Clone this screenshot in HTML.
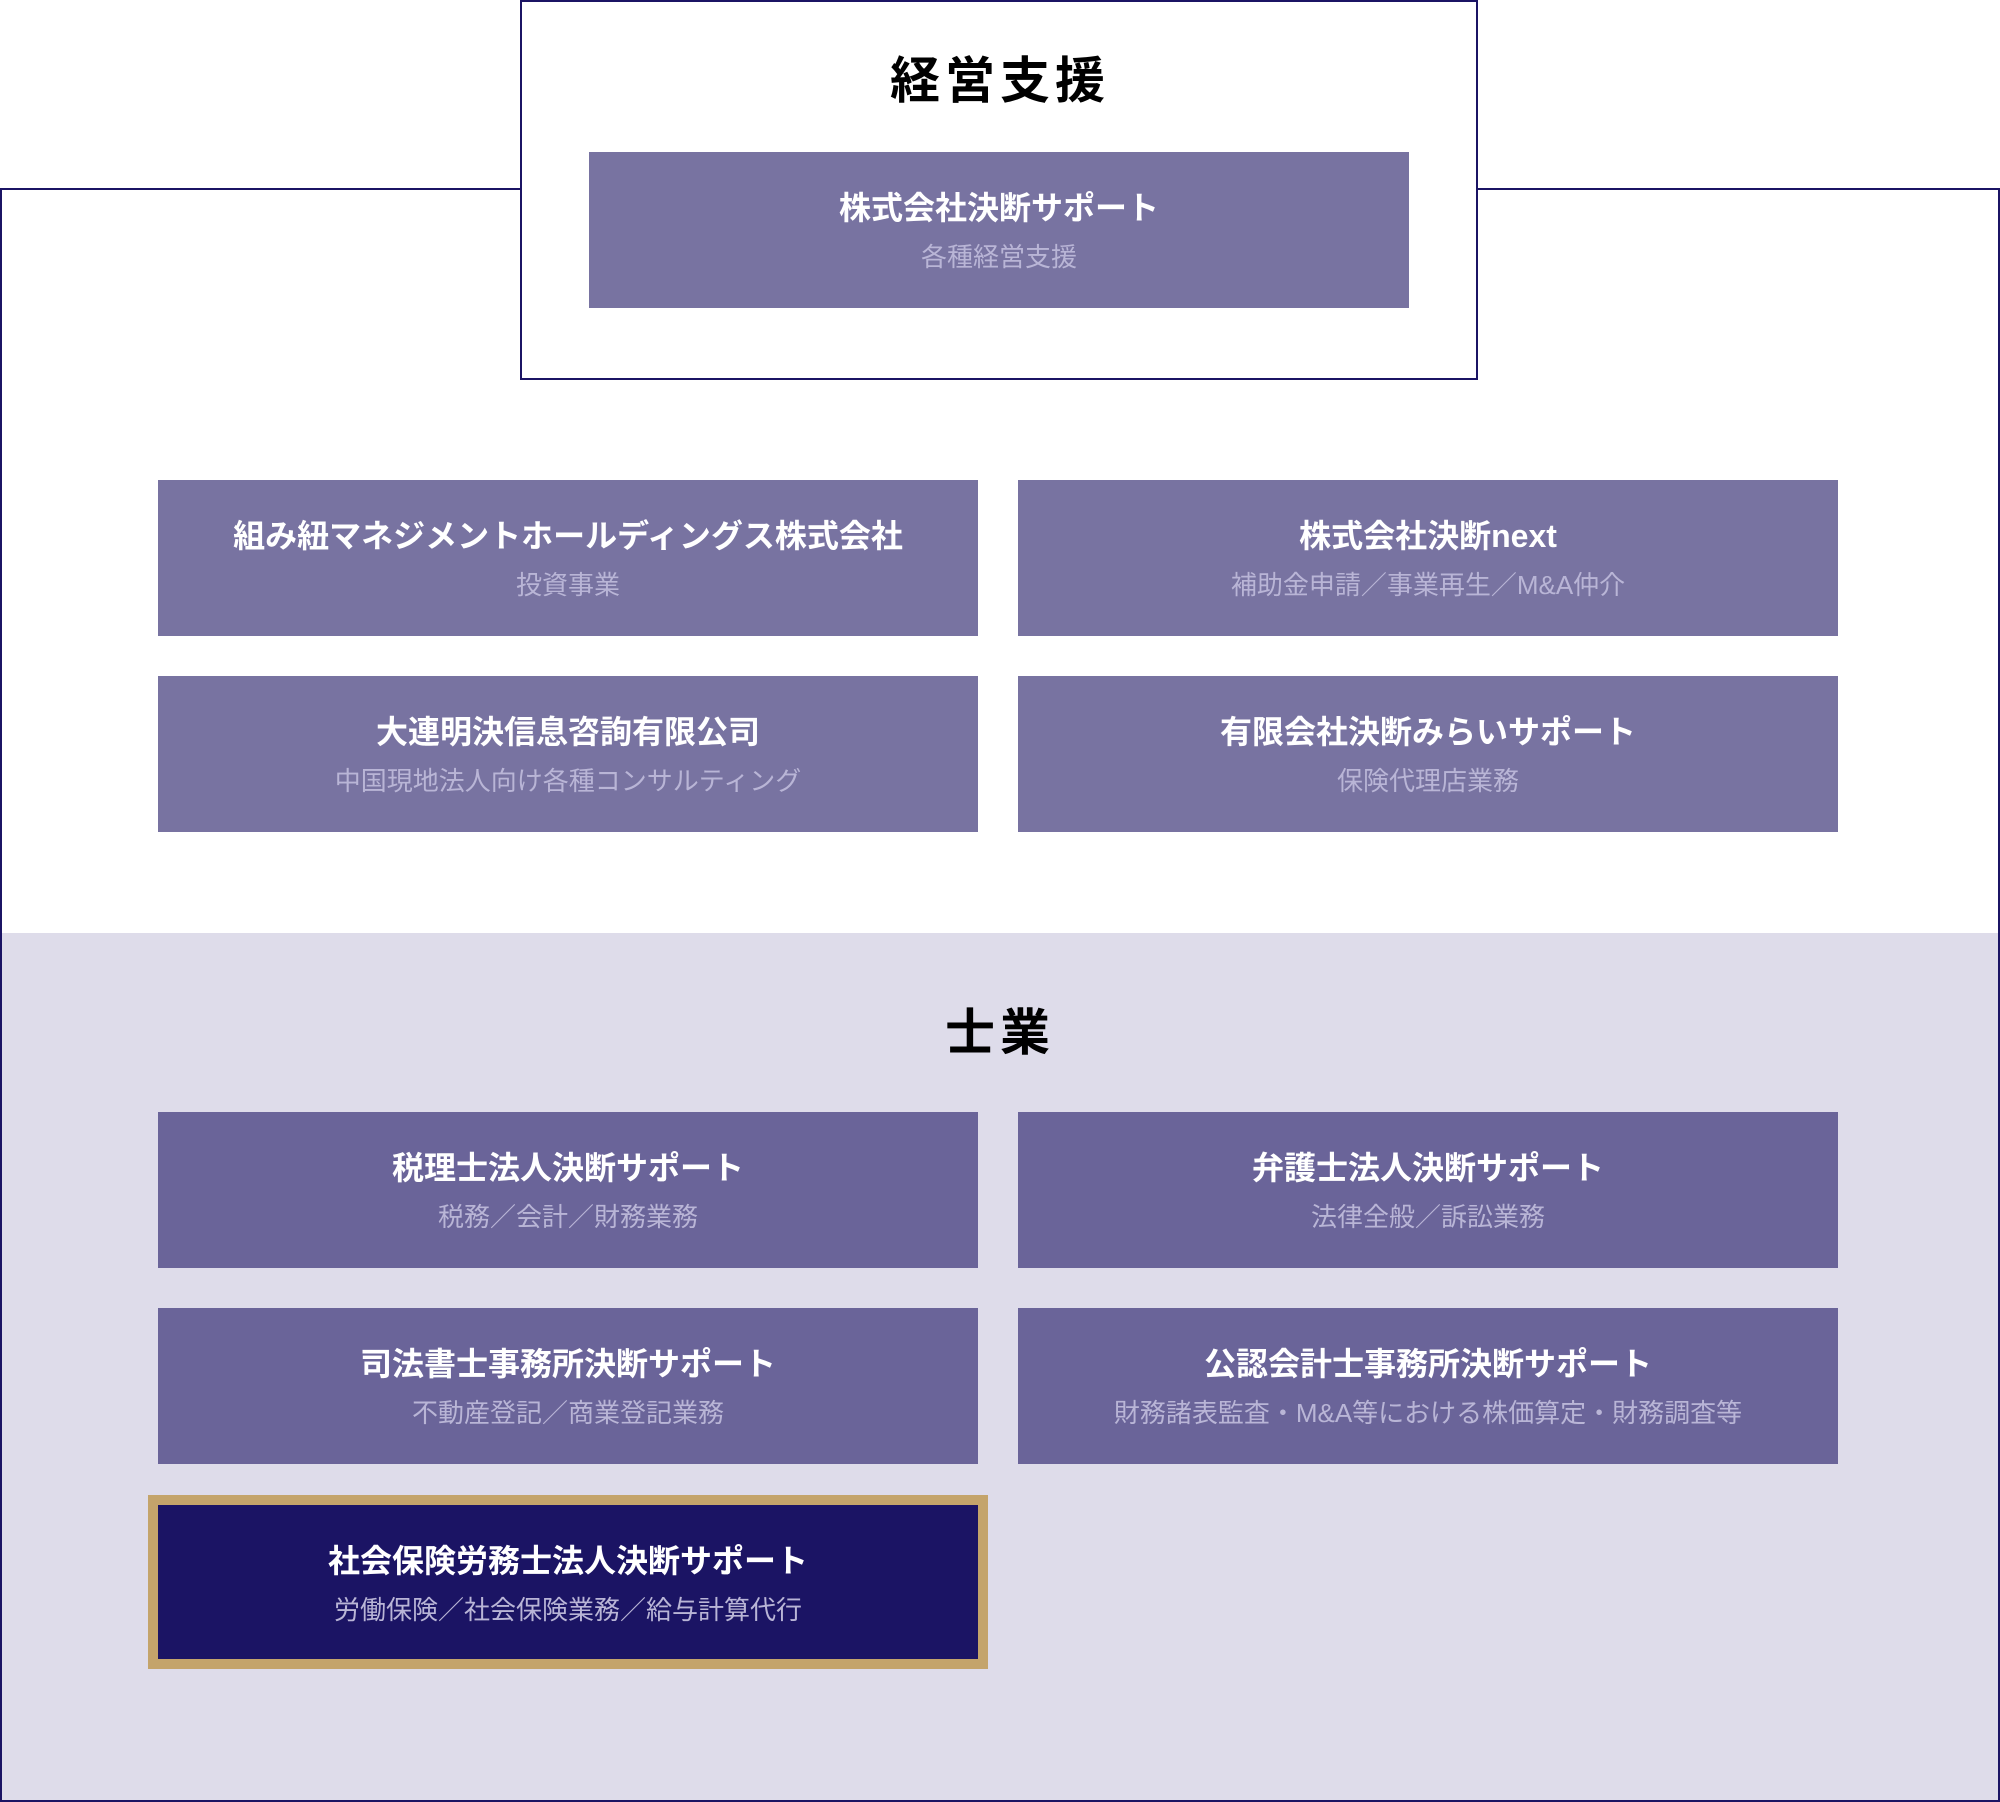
<!DOCTYPE html>
<html><head><meta charset="utf-8"><style>
*{margin:0;padding:0;box-sizing:border-box}
body{width:2000px;height:1802px;position:relative;background:#fff;font-family:"Liberation Sans","Noto Sans CJK JP",sans-serif;overflow:hidden}
.a{position:absolute}
.outer{left:0;top:188px;width:2000px;height:1614px;border:2px solid #1b1464;background:linear-gradient(#fff 0,#fff 743px,#dedcea 743px)}
.topbox{left:520px;top:0;width:958px;height:380px;border:2px solid #1b1464;background:#fff}
.h{width:2000px;left:0;text-align:center;font-weight:bold;font-size:50px;color:#000;letter-spacing:5px;line-height:1}
.b{background:#7873a1;color:#fff;text-align:center}
.s{background:#6a6499}
.b .t{position:absolute;left:0;right:0;top:36px;font-size:32px;font-weight:bold;line-height:40px;letter-spacing:0}
.b .u{position:absolute;left:0;right:0;top:89px;font-size:26px;line-height:32px;color:#b9b5d6}
.d{background:#1b1464}
.gold{left:148px;top:1495px;width:840px;height:174px;background:#c4a46b}
</style></head><body>
<div class="a outer"></div>
<div class="a topbox"></div>
<div class="a h" style="top:56px">経営支援</div>
<div class="a b" style="left:589px;top:152px;width:820px;height:156px"><div class="t">株式会社決断サポート</div><div class="u">各種経営支援</div></div>
<div class="a b" style="left:158px;top:480px;width:820px;height:156px"><div class="t">組み紐マネジメントホールディングス株式会社</div><div class="u">投資事業</div></div>
<div class="a b" style="left:1018px;top:480px;width:820px;height:156px"><div class="t">株式会社決断next</div><div class="u">補助金申請／事業再生／M&amp;A仲介</div></div>
<div class="a b" style="left:158px;top:676px;width:820px;height:156px"><div class="t">大連明決信息咨詢有限公司</div><div class="u">中国現地法人向け各種コンサルティング</div></div>
<div class="a b" style="left:1018px;top:676px;width:820px;height:156px"><div class="t">有限会社決断みらいサポート</div><div class="u">保険代理店業務</div></div>
<div class="a h" style="top:1008px">士業</div>
<div class="a b s" style="left:158px;top:1112px;width:820px;height:156px"><div class="t">税理士法人決断サポート</div><div class="u">税務／会計／財務業務</div></div>
<div class="a b s" style="left:1018px;top:1112px;width:820px;height:156px"><div class="t">弁護士法人決断サポート</div><div class="u">法律全般／訴訟業務</div></div>
<div class="a b s" style="left:158px;top:1308px;width:820px;height:156px"><div class="t">司法書士事務所決断サポート</div><div class="u">不動産登記／商業登記業務</div></div>
<div class="a b s" style="left:1018px;top:1308px;width:820px;height:156px"><div class="t">公認会計士事務所決断サポート</div><div class="u">財務諸表監査・M&amp;A等における株価算定・財務調査等</div></div>
<div class="a gold"></div>
<div class="a b d" style="left:158px;top:1505px;width:820px;height:154px"><div class="t">社会保険労務士法人決断サポート</div><div class="u">労働保険／社会保険業務／給与計算代行</div></div>
</body></html>
